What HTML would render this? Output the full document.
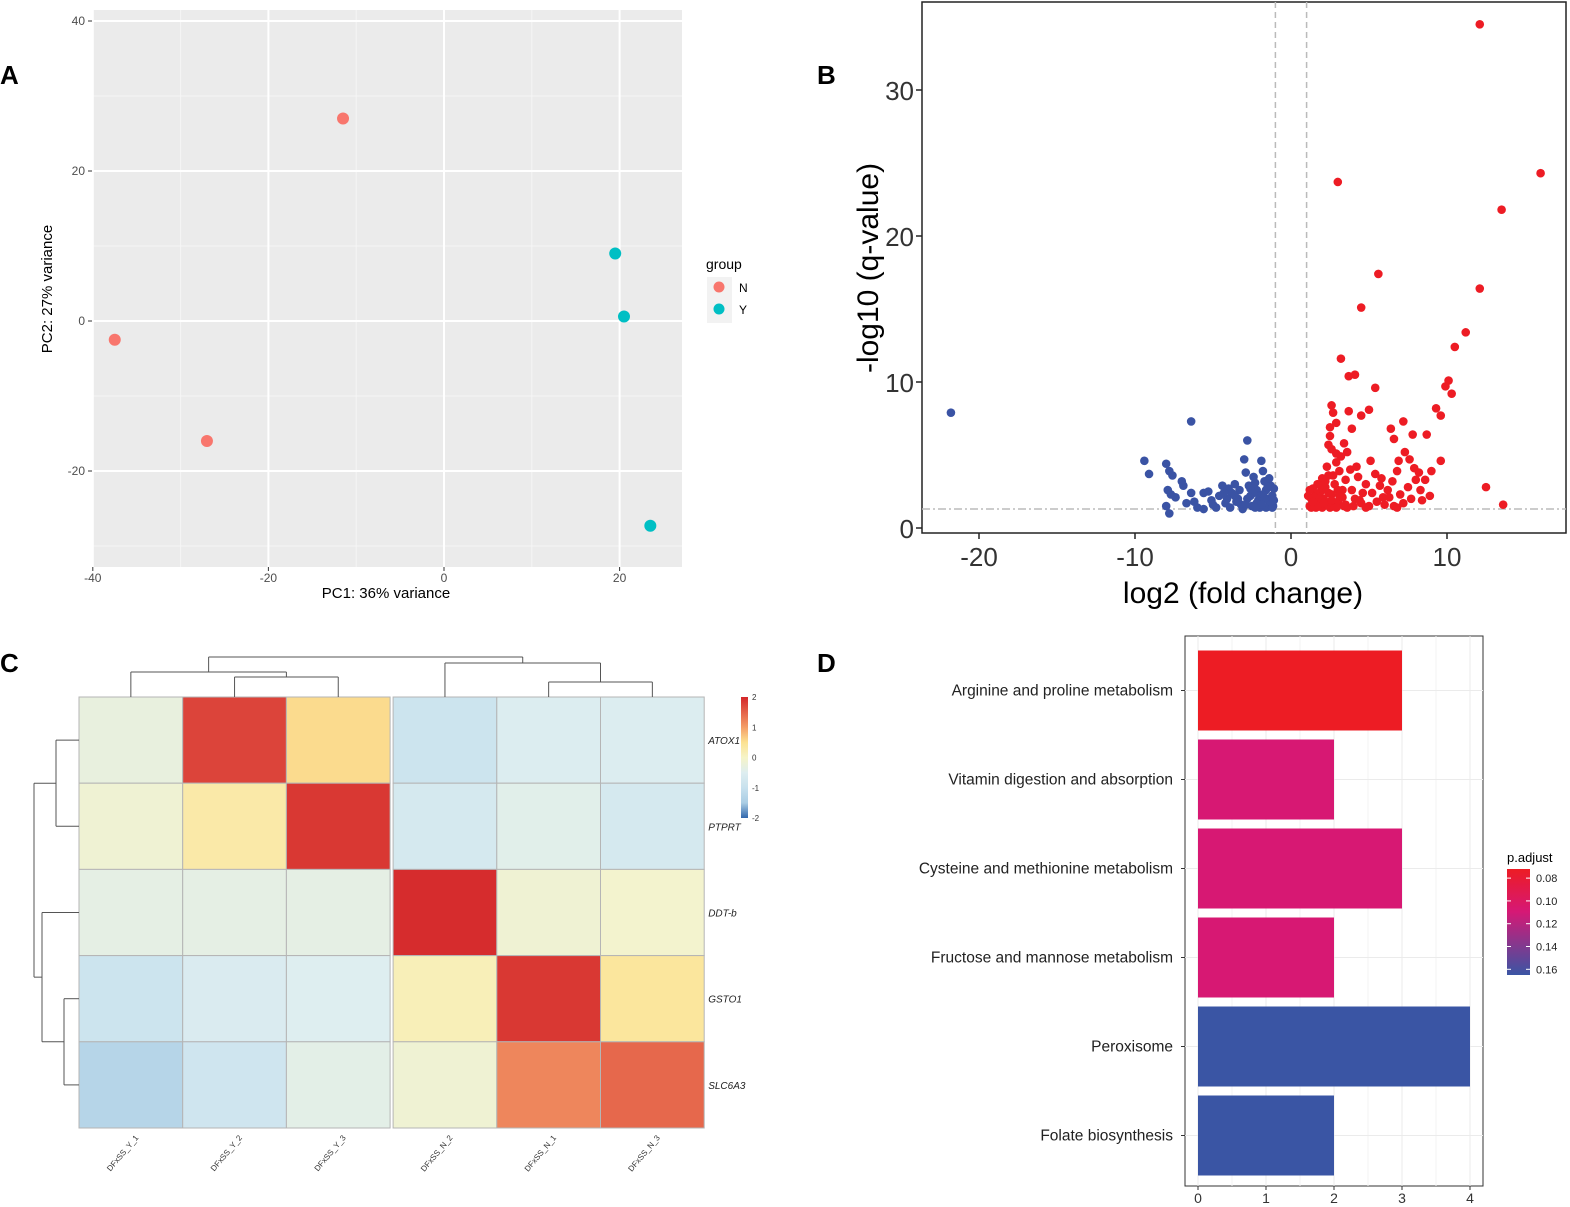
<!DOCTYPE html>
<html><head><meta charset="utf-8"><style>
html,body{margin:0;padding:0;background:#fff;}
svg{display:block;font-family:"Liberation Sans",Arial,sans-serif;}
</style></head><body>
<svg id="fig" width="1570" height="1207" viewBox="0 0 1570 1207" xmlns="http://www.w3.org/2000/svg">
<text x="0" y="84" font-size="26" font-weight="bold">A</text>
<text x="817" y="84" font-size="26" font-weight="bold">B</text>
<text x="0" y="672" font-size="26" font-weight="bold">C</text>
<text x="817" y="672" font-size="26" font-weight="bold">D</text>
<g id="pA"></g>
<g id="pB"></g>
<g id="pC"></g>
<g id="pD"></g>
</svg>
<script>
// ---------- Panel A data ----------
const pcaGroups = ["N","N","N","Y","Y","Y"];
const pcaPC1 = [-37.5,-27,-11.5,19.5,20.5,23.5];
const pcaPC2 = [-2.5,-16,27,9,0.6,-27.3];
const pcaXTicks = [-40,-20,0,20];
const pcaYTicks = [-20,0,20,40];
// ---------- Panel B data ----------
const volcXTicks = [-20,-10,0,10];
const volcYTicks = [0,10,20,30];
const volcDown = [[-21.8,7.9],[-6.4,7.3],[-2.8,6.0],[-9.4,4.6],[-9.1,3.7],[-8.0,4.4],[-7.8,3.9],[-7.6,3.6],[-7.0,3.2],[-6.9,2.9],[-7.9,2.6],[-7.7,2.3],[-7.4,2.1],[-8.0,1.5],[-7.8,1.0],[-6.4,2.4],[-6.2,1.8],[-6.0,1.4],[-5.6,2.4],[-5.3,2.5],[-5.1,1.9],[-4.8,1.4],[-4.6,2.2],[-4.2,1.7],[-4.0,2.7],[-3.8,2.4],[-3.6,3.0],[-3.4,2.0],[-3.2,1.6],[-3.0,4.7],[-2.9,3.8],[-2.7,2.9],[-2.6,2.2],[-2.5,1.5],[-2.3,3.1],[-2.2,2.6],[-2.1,1.9],[-2.0,1.4],[-1.9,4.6],[-1.8,3.9],[-1.7,3.2],[-1.6,2.6],[-1.5,2.0],[-1.4,1.6],[-1.3,2.9],[-1.2,2.2],[-1.15,1.5],[-1.1,2.7],[-3.9,1.4],[-5.6,1.3],[-4.4,2.9],[-3.3,2.6],[-2.4,3.5],[-2.0,2.2],[-1.6,1.4],[-6.7,1.7],[-5.0,1.6],[-4.1,2.0],[-3.5,1.8],[-2.8,2.0],[-2.2,1.7],[-1.8,2.3],[-1.4,3.4],[-1.2,1.4],[-2.6,2.7],[-3.1,1.3],[-1.3,1.8],[-1.7,2.0],[-2.4,2.4],[-2.9,1.6],[-3.6,2.2],[-4.3,2.4],[-1.9,1.6],[-2.3,1.4],[-1.5,2.8],[-1.1,1.9]];
const volcUp = [[12.1,34.5],[16.0,24.3],[3.0,23.7],[13.5,21.8],[5.6,17.4],[12.1,16.4],[4.5,15.1],[11.2,13.4],[10.5,12.4],[3.2,11.6],[4.1,10.5],[3.7,10.4],[10.1,10.1],[9.9,9.7],[10.3,9.2],[5.4,9.6],[9.3,8.2],[9.6,7.7],[2.6,8.4],[3.7,8.0],[5.0,8.1],[4.5,7.7],[7.2,7.3],[7.8,6.4],[8.7,6.4],[9.6,4.6],[12.5,2.8],[13.6,1.6],[2.7,7.9],[2.9,7.2],[2.5,6.9],[3.9,6.8],[2.5,6.3],[2.4,5.7],[2.6,5.4],[3.4,5.8],[3.6,5.2],[3.2,4.9],[6.4,6.8],[6.6,6.1],[7.3,5.2],[6.9,4.6],[7.6,4.7],[7.9,4.1],[8.2,3.8],[8.0,3.3],[7.5,2.8],[6.8,3.9],[6.5,3.2],[6.2,2.6],[5.9,2.1],[5.4,3.7],[5.1,4.6],[4.8,3.0],[4.6,2.4],[4.3,3.5],[4.1,2.0],[3.8,4.0],[3.5,3.3],[3.3,2.6],[3.1,3.9],[2.9,4.5],[2.8,3.0],[2.6,2.3],[2.4,3.6],[2.3,4.2],[2.2,2.8],[2.1,2.0],[2.0,3.4],[1.9,2.5],[1.8,1.8],[1.7,3.0],[1.6,2.3],[1.5,1.6],[1.4,2.7],[1.3,2.0],[1.2,1.5],[1.1,2.2],[2.7,1.5],[3.0,1.8],[3.5,1.6],[4.0,1.5],[4.5,1.7],[5.0,1.5],[5.5,1.8],[6.0,1.6],[6.6,1.5],[7.2,1.7],[8.4,1.9],[8.9,2.2],[3.3,2.1],[3.9,2.6],[4.4,1.9],[5.2,2.4],[5.7,2.9],[6.3,2.1],[7.0,2.3],[7.7,2.0],[8.3,2.6],[1.6,1.4],[2.0,1.4],[2.5,1.4],[3.6,1.4],[4.8,1.4],[6.8,1.4],[2.2,3.2],[2.7,3.6],[3.0,2.6],[1.8,2.0],[2.4,2.4],[8.6,3.3],[9.0,3.9],[5.8,3.4],[4.2,4.2],[2.9,5.1],[1.3,1.4],[1.7,1.5],[2.3,1.6],[2.9,1.4],[3.4,1.5],[1.5,2.1],[1.9,2.9],[2.1,1.7],[2.6,1.9],[3.1,2.2],[1.2,2.6],[1.4,1.8]];
// ---------- Panel C data ----------
const hmGenes = ["ATOX1","PTPRT","DDT-b","GSTO1","SLC6A3"];
const hmSamples = ["DFxSS_Y_1","DFxSS_Y_2","DFxSS_Y_3","DFxSS_N_2","DFxSS_N_1","DFxSS_N_3"];
const hmValues = [
 [-0.2, 1.75, 0.55,-0.9,-0.55,-0.55],
 [-0.1, 0.3, 1.85,-0.7,-0.4,-0.7],
 [-0.3,-0.3,-0.3, 1.95,-0.1,-0.05],
 [-0.9,-0.6,-0.5, 0.15, 1.85, 0.4],
 [-1.3,-0.85,-0.35,-0.1, 1.2, 1.45]
];
const hmScaleTicks = [2,1,0,-1,-2];
// ---------- Panel D data ----------
const keggTerms = ["Arginine and proline metabolism","Vitamin digestion and absorption","Cysteine and methionine metabolism","Fructose and mannose metabolism","Peroxisome","Folate biosynthesis"];
const keggCounts = [3,2,3,2,4,2];
const keggPadj = [0.075,0.11,0.11,0.11,0.165,0.165];
const keggXTicks = [0,1,2,3,4];
const keggLegendTicks = [0.08,0.10,0.12,0.14,0.16];

const NS="http://www.w3.org/2000/svg";
function mk(parent,tag,attrs,text){const e=document.createElementNS(NS,tag);for(const k in attrs)e.setAttribute(k,attrs[k]);if(text!==undefined)e.textContent=text;parent.appendChild(e);return e;}

// ===== Panel A =====
(function(){
 const g=document.getElementById('pA');
 const L=92,R=682,T=10,B=567;
 const xs=v=>444+v*8.78, ys=v=>321-v*7.5;
 mk(g,'rect',{x:L,y:T,width:R-L,height:B-T,fill:'#ebebeb'});
 for(let v=-30;v<=20;v+=20){mk(g,'line',{x1:xs(v),x2:xs(v),y1:T,y2:B,stroke:'#f6f6f6','stroke-width':1});}
 for(let v=-30;v<=30;v+=20){mk(g,'line',{x1:L,x2:R,y1:ys(v),y2:ys(v),stroke:'#f6f6f6','stroke-width':1});}
 pcaXTicks.forEach(v=>{mk(g,'line',{x1:xs(v),x2:xs(v),y1:T,y2:B,stroke:'#fff','stroke-width':2});
  mk(g,'line',{x1:xs(v),x2:xs(v),y1:B,y2:B+4,stroke:'#333'});
  const t=mk(g,'text',{x:xs(v),y:B+15,'font-size':12,fill:'#4d4d4d','text-anchor':'middle'},String(v));
  });
 pcaYTicks.forEach(v=>{mk(g,'line',{x1:L,x2:R,y1:ys(v),y2:ys(v),stroke:'#fff','stroke-width':2});
  mk(g,'line',{x1:L-4,x2:L,y1:ys(v),y2:ys(v),stroke:'#333'});
  const t=mk(g,'text',{x:L-7,y:ys(v)+4,'font-size':12,fill:'#4d4d4d','text-anchor':'end'},String(v));
  });
 pcaPC1.forEach((x,i)=>{const c=mk(g,'circle',{cx:xs(x),cy:ys(pcaPC2[i]),r:6,fill:pcaGroups[i]==='N'?'#f8766d':'#00bfc4'});
  });
 let t=mk(g,'text',{x:386,y:598,'font-size':15,fill:'#000','text-anchor':'middle'},'PC1: 36% variance');
 
 t=mk(g,'text',{x:0,y:0,'font-size':15,fill:'#000','text-anchor':'middle',transform:'translate(52,289) rotate(-90)'},'PC2: 27% variance');
 
 t=mk(g,'text',{x:706,y:269,'font-size':14,fill:'#000'},'group');
 
 mk(g,'rect',{x:707,y:277,width:25,height:46,fill:'#f2f2f2'});
 [['N','#f8766d',287],['Y','#00bfc4',309]].forEach(([lab,col,y])=>{
  const c=mk(g,'circle',{cx:719,cy:y,r:5.5,fill:col});
  mk(g,'text',{x:739,y:y+5,'font-size':12,fill:'#000'},lab);});
})();

// ===== Panel B =====
(function(){
 const g=document.getElementById('pB');
 const L=922,R=1566,T=2,B=533;
 const xs=v=>1291+v*15.6, ys=v=>528-v*14.6;
 mk(g,'rect',{x:L,y:T,width:R-L,height:B-T,fill:'#fff',stroke:'#222','stroke-width':1.5});
 mk(g,'line',{x1:xs(-1),x2:xs(-1),y1:T,y2:B,stroke:'#bbb','stroke-width':1.5,'stroke-dasharray':'6,4'});
 mk(g,'line',{x1:xs(1),x2:xs(1),y1:T,y2:B,stroke:'#bbb','stroke-width':1.5,'stroke-dasharray':'6,4'});
 mk(g,'line',{x1:L,x2:R,y1:ys(1.3),y2:ys(1.3),stroke:'#bbb','stroke-width':1.5,'stroke-dasharray':'8,3,2,3'});
 volcDown.forEach(p=>{const c=mk(g,'circle',{cx:xs(p[0]),cy:ys(p[1]),r:4.3,fill:'#3a53a4'});});
 volcUp.forEach(p=>{const c=mk(g,'circle',{cx:xs(p[0]),cy:ys(p[1]),r:4.3,fill:'#ed1c24'});});
 volcXTicks.forEach(v=>{mk(g,'line',{x1:xs(v),x2:xs(v),y1:B,y2:B+6,stroke:'#222','stroke-width':1.5});
  const t=mk(g,'text',{x:xs(v),y:B+33,'font-size':26,fill:'#333','text-anchor':'middle'},String(v));});
 volcYTicks.forEach(v=>{mk(g,'line',{x1:L-6,x2:L,y1:ys(v),y2:ys(v),stroke:'#222','stroke-width':1.5});
  const t=mk(g,'text',{x:L-8,y:ys(v)+10,'font-size':26,fill:'#333','text-anchor':'end'},String(v));});
 let t=mk(g,'text',{x:1243,y:603,'font-size':30,fill:'#000','text-anchor':'middle'},'log2 (fold change)');
 
 t=mk(g,'text',{x:0,y:0,'font-size':30,fill:'#000','text-anchor':'middle',transform:'translate(878,268) rotate(-90)'},'-log10 (q-value)');
 
})();

// ===== Panel C =====
(function(){
 const g=document.getElementById('pC');
 const L=79,T=697,cw=103.7,rh=86.2;
 function col(v){const stops=[[-2,[49,103,172]],[-1.5,[170,205,228]],[-1,[200,225,238]],[-0.5,[222,238,240]],[-0.2,[232,240,222]],[0,[246,244,200]],[0.5,[252,226,146]],[1,[244,158,104]],[2,[212,38,42]]];
  v=Math.max(-2,Math.min(2,v));for(let i=0;i<stops.length-1;i++){const a=stops[i],b=stops[i+1];if(v<=b[0]){const f=(v-a[0])/(b[0]-a[0]);const c=a[1].map((x,k)=>Math.round(x+(b[1][k]-x)*f));return 'rgb('+c.join(',')+')';}}return 'rgb(212,38,42)';}
 hmValues.forEach((row,r)=>row.forEach((v,c)=>{const x=L+c*cw+(c>=3?3:0);const e=mk(g,'rect',{x:x,y:T+r*rh,width:cw,height:rh,fill:col(v),stroke:'#b5b5b5','stroke-width':1});
  }));
 hmGenes.forEach((n,r)=>{const t=mk(g,'text',{x:L+6*cw+7,y:T+r*rh+rh/2+4,'font-size':10,'font-style':'italic',fill:'#222'},n);});
 hmSamples.forEach((n,c)=>{const cx=L+c*cw+cw/2+(c>=3?3:0);const t=mk(g,'text',{x:0,y:0,'font-size':8,fill:'#333','text-anchor':'end',transform:`translate(${cx+8},${T+5*rh+10}) rotate(-50)`},n);});
 const dg='#555';const ln=(x1,y1,x2,y2)=>mk(g,'line',{x1,y1,x2,y2,stroke:dg,'stroke-width':1});
 const cxs=hmSamples.map((_,c)=>L+c*cw+cw/2+(c>=3?3:0));
 const m23=(cxs[1]+cxs[2])/2, m56=(cxs[4]+cxs[5])/2, mL=(cxs[0]+m23)/2, mR=(cxs[3]+m56)/2;
 ln(cxs[1],T,cxs[1],677);ln(cxs[2],T,cxs[2],677);ln(cxs[1],677,cxs[2],677);
 ln(cxs[0],T,cxs[0],672);ln(m23,677,m23,672);ln(cxs[0],672,m23,672);
 ln(cxs[4],T,cxs[4],682);ln(cxs[5],T,cxs[5],682);ln(cxs[4],682,cxs[5],682);
 ln(cxs[3],T,cxs[3],663);ln(m56,682,m56,663);ln(cxs[3],663,m56,663);
 ln(mL,672,mL,657);ln(mR,663,mR,657);ln(mL,657,mR,657);
 const ry=hmGenes.map((_,r)=>T+r*rh+rh/2);
 const m12=(ry[0]+ry[1])/2,m45=(ry[3]+ry[4])/2,m345=(ry[2]+m45)/2;
 ln(L,ry[0],56,ry[0]);ln(L,ry[1],56,ry[1]);ln(56,ry[0],56,ry[1]);
 ln(L,ry[3],64,ry[3]);ln(L,ry[4],64,ry[4]);ln(64,ry[3],64,ry[4]);
 ln(L,ry[2],42,ry[2]);ln(64,m45,42,m45);ln(42,ry[2],42,m45);
 ln(56,m12,34,m12);ln(42,m345,34,m345);ln(34,m12,34,m345);
 const defs=mk(g,'defs',{});const gr=mk(defs,'linearGradient',{id:'hmg',x1:0,y1:0,x2:0,y2:1});
 [2,1,0.5,0,-0.5,-1,-1.5,-2].forEach(v=>mk(gr,'stop',{offset:((2-v)/4),'stop-color':col(v)}));
 const cb=mk(g,'rect',{x:741,y:697,width:7,height:121,fill:'url(#hmg)'});
 hmScaleTicks.forEach(v=>{const y=697+(2-v)/4*121;const t=mk(g,'text',{x:752,y:y+3,'font-size':8,fill:'#333'},String(v));});
})();

// ===== Panel D =====
(function(){
 const g=document.getElementById('pD');
 const L=1185,R=1483,T=636,B=1186;
 const xs=v=>1198+v*68, band=89, y0=646;
 mk(g,'rect',{x:L,y:T,width:R-L,height:B-T,fill:'#fff',stroke:'#333','stroke-width':1});
 [0.5,1.5,2.5,3.5].forEach(v=>mk(g,'line',{x1:xs(v),x2:xs(v),y1:T,y2:B,stroke:'#f3f3f3'}));
 keggXTicks.forEach(v=>{mk(g,'line',{x1:xs(v),x2:xs(v),y1:T,y2:B,stroke:'#ebebeb'});
  mk(g,'line',{x1:xs(v),x2:xs(v),y1:B,y2:B+4,stroke:'#333'});
  const t=mk(g,'text',{x:xs(v),y:B+17,'font-size':14,fill:'#333','text-anchor':'middle'},String(v));});
 function pc(p){const lo=[237,28,36],mid=[214,24,117],hi=[58,85,164];const f=(p-0.075)/(0.165-0.075);let a,b,t;if(f<0.4){a=lo;b=mid;t=f/0.4;}else{a=mid;b=hi;t=(f-0.4)/0.6;}t=Math.max(0,Math.min(1,t));return 'rgb('+a.map((x,k)=>Math.round(x+(b[k]-x)*t)).join(',')+')';}
 keggTerms.forEach((n,i)=>{const cy=y0+band*i+band/2;
  mk(g,'line',{x1:L,x2:R,y1:cy,y2:cy,stroke:'#ebebeb'});
  const b=mk(g,'rect',{x:xs(0),y:cy-40,width:xs(keggCounts[i])-xs(0),height:80,fill:pc(keggPadj[i])});
  mk(g,'line',{x1:L-4,x2:L,y1:cy,y2:cy,stroke:'#333'});
  const t=mk(g,'text',{x:L-12,y:cy+5,'font-size':15.5,fill:'#222','text-anchor':'end'},n);});
 let t=mk(g,'text',{x:1507,y:862,'font-size':13,fill:'#000'},'p.adjust');
 const defs=mk(g,'defs',{});const gr=mk(defs,'linearGradient',{id:'pg',x1:0,y1:0,x2:0,y2:1});
 mk(gr,'stop',{offset:0,'stop-color':'rgb(237,28,36)'});mk(gr,'stop',{offset:0.4,'stop-color':'rgb(214,24,117)'});mk(gr,'stop',{offset:1,'stop-color':'rgb(58,85,164)'});
 const cb=mk(g,'rect',{x:1507,y:869,width:23,height:106,fill:'url(#pg)'});
 keggLegendTicks.forEach(v=>{const y=869+(v-0.072)/(0.165-0.072)*106;
  mk(g,'line',{x1:1507,x2:1511,y1:y,y2:y,stroke:'#fff'});mk(g,'line',{x1:1526,x2:1530,y1:y,y2:y,stroke:'#fff'});
  const t=mk(g,'text',{x:1536,y:y+4,'font-size':11,fill:'#222'},v.toFixed(2));});
})();
</script>
</body></html>
